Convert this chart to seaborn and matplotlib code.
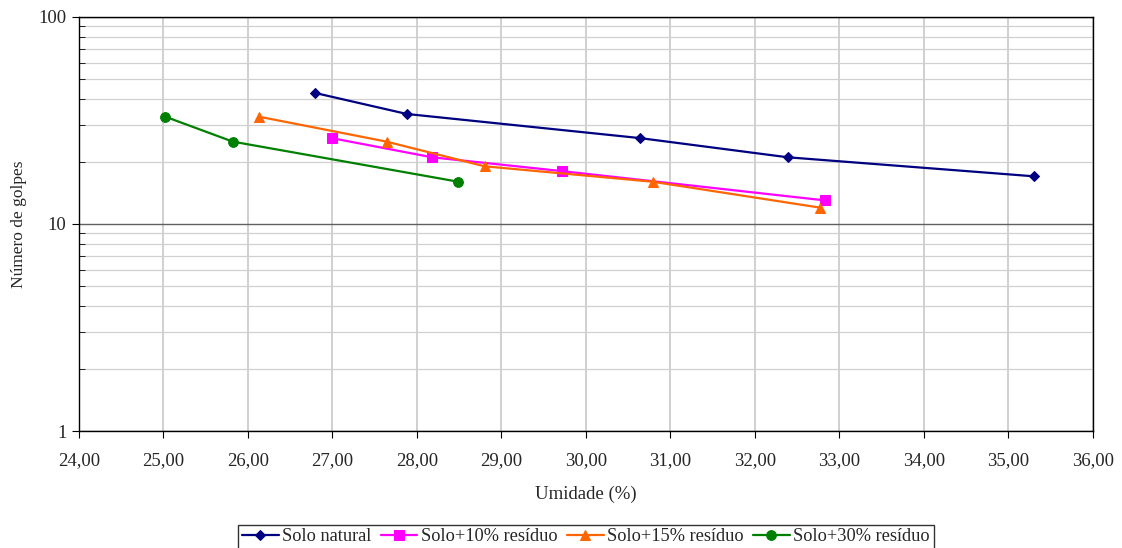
import numpy as np
import pandas as pd
import matplotlib
matplotlib.use("Agg")
import matplotlib.pyplot as plt
import matplotlib.ticker as mticker
import seaborn as sns

# valores
natural_x = [26.79, 27.88, 30.64, 32.39, 35.30]
natural_y = [43, 34, 26, 21, 17]
r10_x = [26.99, 28.18, 29.72, 32.83]
r10_y = [26, 21, 18, 13]
r15_x = [26.13, 27.64, 28.80, 30.79, 32.77]
r15_y = [33, 25, 19, 16, 12]
r30_x = [25.02, 25.82, 28.49]
r30_y = [33, 25, 16]

SERIES = [
    ("Solo natural", natural_x, natural_y, "#000080", "D", 5.5),
    ("Solo+10% resíduo", r10_x, r10_y, "#FF00FF", "s", 7),
    ("Solo+15% resíduo", r15_x, r15_y, "#FF6600", "^", 7),
    ("Solo+30% resíduo", r30_x, r30_y, "#008000", "o", 7),
]

sns.set_style("white")
plt.rcParams["font.family"] = ["Liberation Serif", "DejaVu Serif"]
plt.rcParams["font.size"] = 13

fig = plt.figure(figsize=(11.22, 5.48), dpi=100)
ax = fig.add_axes([0.0704, 0.2135, 0.9036, 0.7555])

for name, xs, ys, color, mk, ms in SERIES:
    df = pd.DataFrame({"x": xs, "y": ys})
    sns.lineplot(data=df, x="x", y="y", ax=ax, color=color, marker=mk,
                 markersize=ms, markeredgecolor=color, linewidth=1.6,
                 label=name, sort=False, zorder=3)

ax.set_yscale("log")
ax.set_ylim(1, 100)
ax.set_xlim(24, 36)
ax.xaxis.set_major_locator(mticker.MultipleLocator(1))
ax.xaxis.set_major_formatter(mticker.FuncFormatter(lambda v, p: f"{v:.2f}".replace(".", ",")))
ax.yaxis.set_major_locator(mticker.LogLocator(base=10))
ax.yaxis.set_major_formatter(mticker.FuncFormatter(lambda v, p: f"{v:g}"))
ax.yaxis.set_minor_locator(mticker.LogLocator(base=10, subs=np.arange(2, 10)))
ax.yaxis.set_minor_formatter(mticker.NullFormatter())

ax.grid(True, which="major", axis="y", color="#606060", linewidth=1.0)
ax.grid(True, which="minor", axis="y", color="#d0d0d0", linewidth=0.9)
ax.grid(True, which="major", axis="x", color="#c8c8c8", linewidth=1.2)
ax.set_axisbelow(True)

for s in ax.spines.values():
    s.set_visible(True)
    s.set_color("black")
    s.set_linewidth(1.0)

ax.tick_params(axis="both", which="major", direction="out", length=5, color="black",
               labelsize=13.5, left=True, bottom=True)
ax.tick_params(axis="x", which="major", pad=10)
ax.tick_params(axis="y", which="major", pad=4)
ax.tick_params(axis="y", which="minor", direction="in", length=4, color="black", left=True)

ax.set_xlabel("Umidade (%)", fontsize=13.5, labelpad=12)
ax.set_ylabel("Número de golpes", fontsize=12.5, labelpad=8)

leg = ax.legend(loc="center", bbox_to_anchor=(0.5, -0.256), ncol=4, frameon=True,
                fancybox=False, edgecolor="black", fontsize=13.2, handlelength=2.0,
                handletextpad=0.2, columnspacing=0.5, borderpad=0.2)
leg.get_frame().set_linewidth(1.0)

fig.savefig("out.png", dpi=100)
